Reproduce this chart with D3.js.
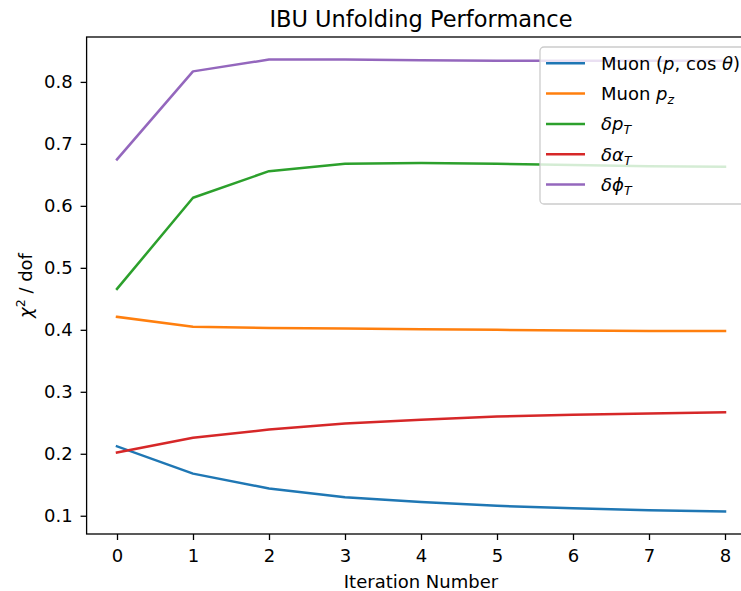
<!DOCTYPE html>
<html>
<head>
<meta charset="utf-8">
<style>
  body { margin: 0; background: #fff; }
  text { font-family: "DejaVu Sans", sans-serif; fill: #000; }
</style>
</head>
<body>
<svg width="741" height="591"></svg>
<script src="https://d3js.org/d3.v7.min.js"></script>
<script>
    // data
    var iterations = [0, 1, 2, 3, 4, 5, 6, 7, 8];
    var muonPCos = [0.212, 0.168, 0.144, 0.130, 0.122, 0.116, 0.112, 0.109, 0.107];
    var muonPz = [0.421, 0.405, 0.403, 0.402, 0.401, 0.400, 0.399, 0.398, 0.398];
    var deltaPT = [0.466, 0.613, 0.656, 0.668, 0.669, 0.668, 0.666, 0.664, 0.663];
    var deltaAlphaT = [0.202, 0.226, 0.239, 0.249, 0.255, 0.260, 0.263, 0.265, 0.267];
    var deltaPhiT = [0.675, 0.817, 0.836, 0.836, 0.835, 0.834, 0.834, 0.834, 0.834];
    var xTicks = [0, 1, 2, 3, 4, 5, 6, 7, 8];
    var yTicks = [0.1, 0.2, 0.3, 0.4, 0.5, 0.6, 0.7, 0.8];

    var series = [
        { id: "muonPCos", values: muonPCos, color: "#1f77b4" },
        { id: "muonPz", values: muonPz, color: "#ff7f0e" },
        { id: "deltaPT", values: deltaPT, color: "#2ca02c" },
        { id: "deltaAlphaT", values: deltaAlphaT, color: "#d62728" },
        { id: "deltaPhiT", values: deltaPhiT, color: "#9467bd" }
    ];

    var svg = d3.select("svg"),
        margin = { top: 37, left: 86.6 },
        width = 668.8,
        height = 497;

    var g = svg.append("g").attr("transform", "translate(" + margin.left + "," + margin.top + ")");

    // matplotlib style 5% padding
    var allVals = d3.merge(series.map(function (s) { return s.values; }));
    var yMin = d3.min(allVals), yMax = d3.max(allVals), pad = (yMax - yMin) * 0.05;

    var x = d3.scaleLinear().domain([-0.4, 8.4]).range([0, width]),
        y = d3.scaleLinear().domain([yMin - pad, yMax + pad]).range([height, 0]);

    var line = d3.line()
        .x(function (d, i) { return x(iterations[i]); })
        .y(function (d) { return y(d); });

    g.append("g")
        .selectAll("path")
        .data(series)
        .enter().append("path")
        .attr("fill", "none")
        .attr("stroke", function (d) { return d.color; })
        .attr("stroke-width", 2.5)
        .attr("stroke-linejoin", "round")
        .attr("stroke-linecap", "square")
        .attr("d", function (d) { return line(d.values); });

    // axes
    var xAxis = g.append("g")
        .attr("transform", "translate(0," + height + ")")
        .call(d3.axisBottom(x).tickValues(xTicks).tickSize(6).tickPadding(9).tickFormat(d3.format("d")));
    var yAxis = g.append("g")
        .call(d3.axisLeft(y).tickValues(yTicks).tickSize(6).tickPadding(8).tickFormat(d3.format(".1f")));

    [xAxis, yAxis].forEach(function (a) {
        a.select(".domain").remove();
        a.selectAll(".tick line").attr("stroke", "#000").attr("stroke-width", 1.3);
        a.selectAll(".tick text").style("font-size", "18px").attr("fill", "#000");
    });

    // spines (right one falls outside the picture)
    g.append("rect")
        .attr("x", 0).attr("y", 0)
        .attr("width", width).attr("height", height)
        .attr("fill", "none")
        .attr("stroke", "#000")
        .attr("stroke-width", 1.3);

    // title and labels
    svg.append("text")
        .attr("x", margin.left + width / 2)
        .attr("y", 27)
        .attr("text-anchor", "middle")
        .style("font-size", "22.5px")
        .text("IBU Unfolding Performance");

    svg.append("text")
        .attr("x", margin.left + width / 2)
        .attr("y", 588)
        .attr("text-anchor", "middle")
        .style("font-size", "18px")
        .text("Iteration Number");

    var yl = svg.append("text")
        .attr("transform", "translate(32," + (margin.top + height / 2) + ") rotate(-90)")
        .attr("text-anchor", "middle")
        .style("font-size", "18px");
    yl.append("tspan").style("font-style", "italic").text("χ");
    yl.append("tspan").attr("dy", -7).style("font-size", "12.5px").text("2");
    yl.append("tspan").attr("dy", 7).text(" / dof");

    // legend
    var leg = svg.append("g").attr("transform", "translate(540,47)");
    leg.append("rect")
        .attr("width", 210).attr("height", 157)
        .attr("rx", 4)
        .attr("fill", "rgba(255,255,255,0.8)")
        .attr("stroke", "#cccccc")
        .attr("stroke-width", 1.3);

    var labels = [
        [["Muon (", ""], ["p", "i"], [", cos ", ""], ["θ", "i"], [")", ""]],
        [["Muon ", ""], ["p", "i"], ["z", "si"]],
        [["δ", "i"], ["p", "i"], ["T", "si"]],
        [["δα", "i"], ["T", "si"]],
        [["δϕ", "i"], ["T", "si"]]
    ];

    series.forEach(function (s, i) {
        var row = leg.append("g").attr("transform", "translate(0," + (16.3 + i * 30.3) + ")");
        row.append("line")
            .attr("x1", 6).attr("x2", 45)
            .attr("stroke", s.color).attr("stroke-width", 2.5);
        var t = row.append("text").attr("x", 61).attr("y", 6.5).style("font-size", "18px");
        var sub = false;
        labels[i].forEach(function (p) {
            var ts = t.append("tspan").text(p[0]);
            if (p[1].indexOf("i") >= 0) ts.style("font-style", "italic");
            if (p[1].indexOf("s") >= 0) {
                ts.attr("dy", 4).style("font-size", "12.5px");
                sub = true;
            } else if (sub) {
                ts.attr("dy", -4);
                sub = false;
            }
        });
    });
</script>
</body>
</html>
